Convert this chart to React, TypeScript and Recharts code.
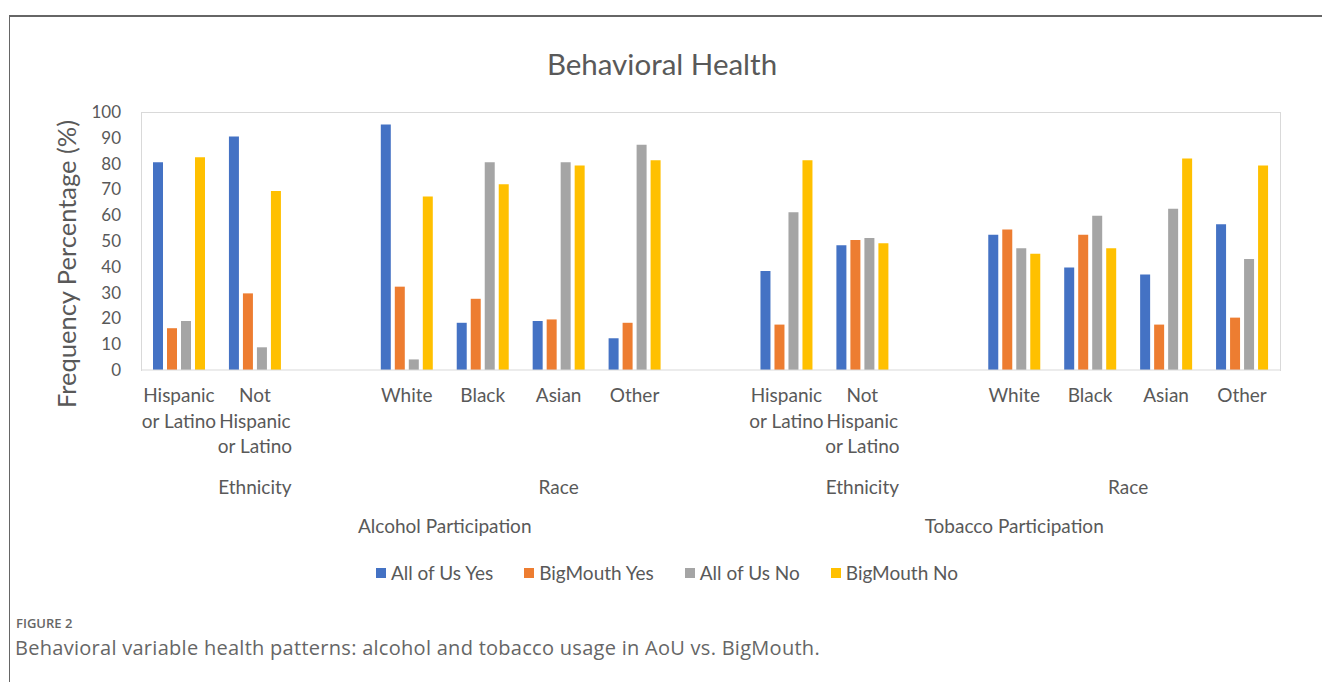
import React from "react";
import { BarChart, Bar, XAxis, YAxis } from "recharts";

const categories = [
  "Hispanic or Latino",
  "Not Hispanic or Latino",
  "",
  "White",
  "Black",
  "Asian",
  "Other",
  "",
  "Hispanic or Latino",
  "Not Hispanic or Latino",
  "",
  "White",
  "Black",
  "Asian",
  "Other",
];

// blank slots (null) separate the groups, like the Excel original
const aouYes = [80.5, 90.5, null, 95.2, 18.3, 19, 12.3, null, 38.4, 48.4, null, 52.4, 39.7, 37, 56.5];
const bigMouthYes = [16.2, 29.7, null, 32.3, 27.6, 19.6, 18.3, null, 17.6, 50.4, null, 54.5, 52.4, 17.6, 20.3];
const aouNo = [19, 8.8, null, 4.1, 80.5, 80.5, 87.3, null, 61.1, 51.2, null, 47.2, 59.8, 62.5, 43];
const bigMouthNo = [82.5, 69.4, null, 67.2, 72, 79.3, 81.3, null, 81.3, 49.1, null, 45.1, 47.2, 82, 79.3];

const yTicks = [0, 10, 20, 30, 40, 50, 60, 70, 80, 90, 100];

const groups = [
  { label: "Ethnicity", from: 0, to: 2 },
  { label: "Race", from: 3, to: 7 },
  { label: "Ethnicity", from: 8, to: 10 },
  { label: "Race", from: 11, to: 14 },
];
const participation = [
  { label: "Alcohol Participation", from: 0, to: 7 },
  { label: "Tobacco Participation", from: 8, to: 14 },
];

const series = [
  { key: "aouYes", name: "All of Us Yes", color: "#4472C4", values: aouYes },
  { key: "bigMouthYes", name: "BigMouth Yes", color: "#ED7D31", values: bigMouthYes },
  { key: "aouNo", name: "All of Us No", color: "#A5A5A5", values: aouNo },
  { key: "bigMouthNo", name: "BigMouth No", color: "#FFC000", values: bigMouthNo },
];

const data = categories.map((c, i) => {
  const row: Record<string, string | number | null> = { key: "c" + i, label: c };
  series.forEach((s) => {
    row[s.key] = s.values[i];
  });
  return row;
});

const W = 1322;
const H = 682;
const PLOT_LEFT = 141;
const PLOT_RIGHT = 1280;
const PLOT_TOP = 112;
const PLOT_BOTTOM = 370;
const SLOT = (PLOT_RIGHT - PLOT_LEFT) / categories.length;
const TEXT = "#595959";
const FONT = "Lato, 'Open Sans', sans-serif";

function wrap(label: string, max = 9) {
  const words = label.split(" ").filter(Boolean);
  const lines: string[] = [];
  let cur = "";
  words.forEach((w) => {
    const next = cur ? cur + " " + w : w;
    if (next.length > max && cur) {
      lines.push(cur);
      cur = w;
    } else cur = next;
  });
  if (cur) lines.push(cur);
  return lines;
}

const CategoryTick = (props: any) => {
  const { x, y, payload } = props;
  const i = payload.index ?? Number(String(payload.value).slice(1));
  const lines = wrap(categories[i] || "");
  const g = groups.find((d) => d.from === i);
  const p = participation.find((d) => d.from === i);
  return (
    <g>
      {lines.map((ln, k) => (
        <text key={k} x={x} y={y + 32 + k * 25.5} textAnchor="middle" fill={TEXT} fontSize={19} fontFamily={FONT}>
          {ln}
        </text>
      ))}
      {g && (
        <text x={x + ((g.to - g.from) / 2) * SLOT} y={y + 124} textAnchor="middle" fill={TEXT} fontSize={19} fontFamily={FONT}>
          {g.label}
        </text>
      )}
      {p && (
        <text x={x + ((p.to - p.from) / 2) * SLOT} y={y + 163} textAnchor="middle" fill={TEXT} fontSize={19} fontFamily={FONT}>
          {p.label}
        </text>
      )}
    </g>
  );
};

export default function App() {
  return (
    <div style={{ position: "absolute", left: 0, top: 0, width: W, height: H, background: "#fff", overflow: "hidden" }}>
      {/* figure frame */}
      <div style={{ position: "absolute", left: 9, top: 15, right: -2, bottom: -2, borderTop: "2px solid #666", borderLeft: "1px solid #666" }} />
      {/* plot area border */}
      <div
        style={{
          position: "absolute",
          left: PLOT_LEFT,
          top: PLOT_TOP,
          width: PLOT_RIGHT - PLOT_LEFT - 1,
          height: PLOT_BOTTOM - PLOT_TOP,
          border: "1px solid #d9d9d9",
          borderBottom: "none",
        }}
      />
      <div style={{ position: "absolute", left: 0, top: 0 }}>
        <BarChart
          width={W}
          height={H}
          data={data}
          margin={{ top: PLOT_TOP, right: W - PLOT_RIGHT, left: PLOT_LEFT - 40, bottom: H - PLOT_BOTTOM - 200 }}
          barSize={10}
          barGap={4}
        >
          <text x={662} y={75} textAnchor="middle" fill={TEXT} fontSize={29.5} fontFamily={FONT}>
            Behavioral Health
          </text>
          <XAxis
            dataKey="key"
            interval={0}
            height={200}
            tickLine={false}
            tickSize={0}
            tickMargin={0}
            axisLine={{ stroke: "#d9d9d9" }}
            tick={<CategoryTick />}
          />
          <YAxis
            width={40}
            domain={[0, 100]}
            ticks={yTicks}
            interval={0}
            axisLine={false}
            tickLine={false}
            tickSize={0}
            tickMargin={20}
            tick={{ fill: TEXT, fontSize: 17, fontFamily: FONT }}
            label={{
              content: () => (
                <text
                  x={76}
                  y={264}
                  transform="rotate(-90 76 264)"
                  textAnchor="middle"
                  fill={TEXT}
                  fontSize={25.5}
                  fontFamily={FONT}
                >
                  Frequency Percentage (%)
                </text>
              ),
            }}
          />
          {series.map((s) => (
            <Bar key={s.key} dataKey={s.key} name={s.name} fill={s.color} isAnimationActive={false} />
          ))}
        </BarChart>
      </div>
      {/* legend */}
      <div
        style={{
          position: "absolute",
          left: 6,
          top: 561,
          width: W,
          display: "flex",
          justifyContent: "center",
          gap: 31,
          fontFamily: FONT,
          fontSize: 19,
          color: TEXT,
        }}
      >
        {series.map((s) => (
          <div key={s.key} style={{ display: "flex", alignItems: "center", gap: 5 }}>
            <span style={{ display: "inline-block", width: 10, height: 10, background: s.color }} />
            <span>{s.name}</span>
          </div>
        ))}
      </div>
      {/* caption */}
      <div style={{ position: "absolute", left: 16, top: 614, fontFamily: "'Open Sans', sans-serif", fontSize: 13, color: "#666", fontWeight: 600 }}>
        FIGURE 2
      </div>
      <div
        style={{
          position: "absolute",
          left: 15,
          top: 634,
          fontFamily: "'Open Sans', sans-serif",
          fontSize: 20,
          letterSpacing: 0.28,
          color: "#666",
        }}
      >
        Behavioral variable health patterns: alcohol and tobacco usage in AoU vs. BigMouth.
      </div>
    </div>
  );
}
